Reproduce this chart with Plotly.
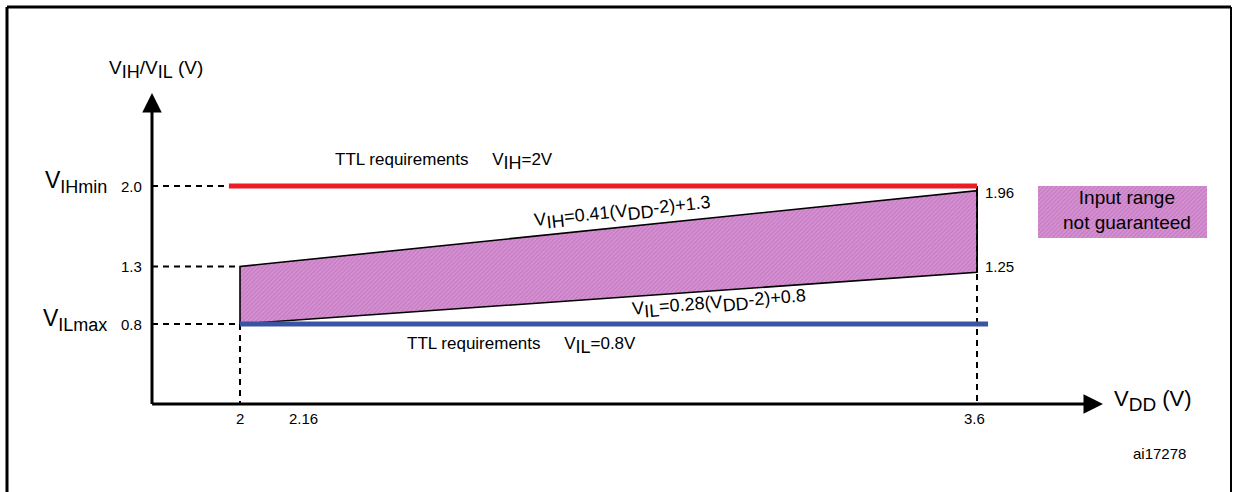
import plotly.graph_objects as go

# ---------------- data ----------------
vdd = [2.0, 3.6]
vih = [1.3, 1.96]
vil = [0.8, 1.25]
ttl_vih_x = [1.976, 3.6]
ttl_vih_y = [2.0, 2.0]
ttl_vil_x = [2.0, 3.624]
ttl_vil_y = [0.8, 0.8]
y_ticks = [2.0, 1.3, 0.8]
y_tick_text = ["2.0", "1.3", "0.8"]
x_ticks = [2.0, 2.16, 3.6]
x_tick_text = ["2", "2.16", "3.6"]
right_vals = [1.96, 1.25]
right_text = ["1.96", "1.25"]

# ---------------- geometry (pixel <-> data) ----------------
W, H = 1235, 492
PPX = (977 - 240) / 1.6
X0 = 2.0 - 240 / PPX
PPY = (324 - 186) / 1.2
YTOP = 2.0 + 186 / PPY


def px(p):
    return X0 + p / PPX


def py(p):
    return YTOP - p / PPY


AX_X = px(152)
AX_Y = py(404)
TIP_X = px(1103)
TIP_Y = py(93)

FONT = "Liberation Sans, Arial, Helvetica, sans-serif"
PINK_BG = "#D493D1"
PINK_FG = "#B55BB2"


def sub(t, size):
    return '<sub><span style="font-size:%dpx">%s</span></sub>' % (size, t)


fig = go.Figure()

# dashed guide lines
dash = dict(color="black", width=2, dash="6px,5px")
fig.add_trace(go.Scatter(x=[AX_X, ttl_vih_x[0]], y=[y_ticks[0]] * 2, mode="lines", line=dash, hoverinfo="skip"))
fig.add_trace(go.Scatter(x=[AX_X, vdd[0]], y=[y_ticks[1]] * 2, mode="lines", line=dash, hoverinfo="skip"))
fig.add_trace(go.Scatter(x=[AX_X, vdd[0]], y=[y_ticks[2]] * 2, mode="lines", line=dash, hoverinfo="skip"))
fig.add_trace(go.Scatter(x=[vdd[0]] * 2, y=[vil[0], AX_Y], mode="lines", line=dash, hoverinfo="skip"))
fig.add_trace(go.Scatter(x=[vdd[1]] * 2, y=[ttl_vih_y[1], AX_Y], mode="lines", line=dash, hoverinfo="skip"))

# band "input range not guaranteed"
fig.add_trace(go.Scatter(
    x=vdd + vdd[::-1] + [vdd[0]],
    y=vil + vih[::-1] + [vil[0]],
    mode="lines", fill="toself",
    fillcolor=PINK_BG,
    fillpattern=dict(shape="/", fgcolor=PINK_FG, bgcolor=PINK_BG, size=3, solidity=0.4),
    line=dict(color="black", width=1.6),
    hoverinfo="skip"))
# right edge dashed over band
fig.add_trace(go.Scatter(x=[vdd[1]] * 2, y=[vih[1], vil[1]], mode="lines", line=dash, hoverinfo="skip"))

# TTL lines
fig.add_trace(go.Scatter(x=ttl_vih_x, y=ttl_vih_y, mode="lines", line=dict(color="#ED1C24", width=5), hoverinfo="skip"))
fig.add_trace(go.Scatter(x=ttl_vil_x, y=ttl_vil_y, mode="lines", line=dict(color="#3A54A4", width=5), hoverinfo="skip"))

# legend swatch
fig.add_trace(go.Scatter(
    x=[px(1038), px(1207), px(1207), px(1038), px(1038)],
    y=[py(186), py(186), py(238), py(238), py(186)],
    mode="lines", fill="toself", fillcolor=PINK_BG,
    fillpattern=dict(shape="/", fgcolor=PINK_FG, bgcolor=PINK_BG, size=3, solidity=0.4),
    line=dict(width=0, color=PINK_BG), hoverinfo="skip"))

ann = []


def T(x, y, text, size=15, **kw):
    d = dict(x=x, y=y, text=text, showarrow=False, xref="x", yref="y",
             font=dict(family=FONT, size=size, color="black"))
    d.update(kw)
    ann.append(d)


# axes arrows
for (x, y, ax, ay) in [(TIP_X, AX_Y, AX_X - 0.003, AX_Y), (AX_X, TIP_Y, AX_X, AX_Y - 0.012)]:
    ann.append(dict(x=x, y=y, ax=ax, ay=ay, xref="x", yref="y", axref="x", ayref="y",
                    showarrow=True, arrowhead=2, arrowsize=1.3, arrowwidth=3,
                    arrowcolor="black", text="", standoff=0, startstandoff=0))

# y tick labels
for v, t in zip(y_ticks, y_tick_text):
    T(AX_X, v, t, 15, xanchor="right", xshift=-8)
# x tick labels
for v, t in zip(x_ticks, x_tick_text):
    T(v, AX_Y, t, 15, yanchor="top", yshift=-4, xshift=(-10 if t == "2.16" else -3 if t == "3.6" else 0))
# right labels
for v, t in zip(right_vals, right_text):
    T(vdd[1], v, t, 15, xanchor="left", xshift=6, yshift=(-2 if t == "1.96" else 6))

# named levels
T(px(109), y_ticks[0], "V" + sub("IHmin", 18), 23, xanchor="right", yshift=4)
T(px(109), y_ticks[2], "V" + sub("ILmax", 18), 23, xanchor="right", yshift=4)

# axis titles
T(px(156), py(69), "V" + sub("IH", 18) + "/V" + sub("IL", 18) + " (V)", 19, xanchor="center")
T(px(1112), AX_Y, "V" + sub("DD", 19) + " (V)", 22, xanchor="left", yshift=4)

# line labels
T(px(333), ttl_vih_y[0],
  "TTL requirements\u00a0\u00a0\u00a0\u00a0 V" + sub("IH", 18) + "=2V", 17, xanchor="left", yshift=25)
T(px(405), ttl_vil_y[0],
  "TTL requirements\u00a0\u00a0\u00a0\u00a0 V" + sub("IL", 18) + "=0.8V", 17, xanchor="left", yshift=-21)

xm1 = px(622)
ym1 = vih[0] + (vih[1] - vih[0]) * (xm1 - vdd[0]) / (vdd[1] - vdd[0])
T(xm1, ym1, "V" + sub("IH", 18) + "=0.41(V" + sub("DD", 18) + "-2)+1.3", 18, textangle=-5.9, yshift=14)
xm2 = px(719)
ym2 = vil[0] + (vil[1] - vil[0]) * (xm2 - vdd[0]) / (vdd[1] - vdd[0])
T(xm2, ym2, "V" + sub("IL", 18) + "=0.28(V" + sub("DD", 18) + "-2)+0.8", 18, textangle=-4.4, yshift=-14)

# legend text
T(px(1127), py(210), "Input range<br>not guaranteed", 19, xanchor="center")

# code
T(px(1159), py(453), "ai17278", 15, xanchor="center")

# outer frame
shapes = [
    dict(type="line", xref="paper", yref="paper", x0=7 / W, x1=7 / W, y0=1 - 7 / H, y1=-0.05, line=dict(color="black", width=3)),
    dict(type="line", xref="paper", yref="paper", x0=7 / W, x1=1231 / W, y0=1 - 7 / H, y1=1 - 7 / H, line=dict(color="black", width=3)),
    dict(type="line", xref="paper", yref="paper", x0=1231 / W, x1=1231 / W, y0=1 - 7 / H, y1=-0.05, line=dict(color="black", width=2)),
]

fig.update_layout(
    width=W, height=H,
    margin=dict(l=0, r=0, t=0, b=0),
    paper_bgcolor="white", plot_bgcolor="white",
    showlegend=False,
    xaxis=dict(range=[px(0), px(W)], visible=False, fixedrange=True),
    yaxis=dict(range=[py(H), py(0)], visible=False, fixedrange=True),
    annotations=ann, shapes=shapes,
)

fig.write_html("out.html", config={"displayModeBar": False},
               post_script="document.body.style.margin='0px';document.body.style.overflow='hidden';")
